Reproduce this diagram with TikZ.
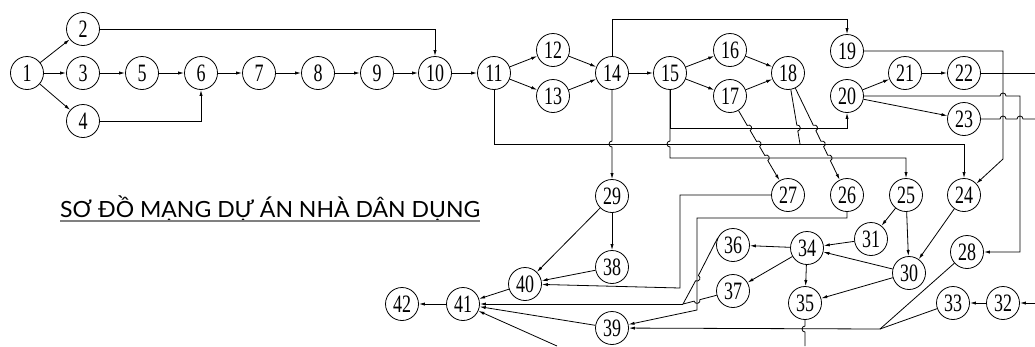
\documentclass[tikz,border=0pt]{standalone}
\usepackage{fontspec}
\newfontfamily\numfont[FakeStretch=0.72]{Liberation Serif}
\newfontfamily\titlefont{Lato}
\usetikzlibrary{arrows.meta}
\begin{document}
\begin{tikzpicture}[x=1pt,y=1pt,
  ev/.style={circle,draw,line width=0.8pt,minimum size=33pt,inner sep=0pt,font=\numfont\fontsize{25}{25}\selectfont},
  ln/.style={line width=0.8pt},
  ar/.style={line width=0.8pt,-{Latex[length=6pt,width=3.2pt]}},
  hp/.style={radius=3pt}]
\useasboundingbox (0,0) rectangle (1035,-346);
% nodes
\node[ev] (n1) at (27,-73) {1};
\node[ev] (n2) at (83,-29) {2};
\node[ev] (n3) at (83,-73) {3};
\node[ev] (n4) at (83,-121) {4};
\node[ev] (n5) at (142,-73) {5};
\node[ev] (n6) at (201,-73) {6};
\node[ev] (n7) at (259,-73) {7};
\node[ev] (n8) at (318,-73) {8};
\node[ev] (n9) at (377,-73) {9};
\node[ev] (n10) at (435,-73) {10};
\node[ev] (n11) at (494,-73) {11};
\node[ev] (n12) at (553,-50) {12};
\node[ev] (n13) at (553,-96) {13};
\node[ev] (n14) at (612,-73) {14};
\node[ev] (n15) at (670,-73) {15};
\node[ev] (n16) at (730,-50) {16};
\node[ev] (n17) at (730,-96) {17};
\node[ev] (n18) at (788,-73) {18};
\node[ev] (n19) at (847,-51) {19};
\node[ev] (n20) at (847,-96) {20};
\node[ev] (n21) at (905,-73) {21};
\node[ev] (n22) at (964,-73) {22};
\node[ev] (n23) at (964,-119) {23};
\node[ev] (n24) at (964,-195) {24};
\node[ev] (n25) at (906,-195) {25};
\node[ev] (n26) at (847,-195) {26};
\node[ev] (n27) at (788,-195) {27};
\node[ev] (n28) at (967,-252) {28};
\node[ev] (n29) at (612,-196) {29};
\node[ev] (n30) at (909,-273) {30};
\node[ev] (n31) at (871,-239) {31};
\node[ev] (n32) at (1003,-303) {32};
\node[ev] (n33) at (953,-303) {33};
\node[ev] (n34) at (807,-248) {34};
\node[ev] (n35) at (805,-303) {35};
\node[ev] (n36) at (733,-245) {36};
\node[ev] (n37) at (733,-291) {37};
\node[ev] (n38) at (612,-267) {38};
\node[ev] (n39) at (612,-328) {39};
\node[ev] (n40) at (525,-284) {40};
\node[ev] (n41) at (463,-304) {41};
\node[ev] (n42) at (402,-304) {42};
\coordinate (j1) at (683,-304);
\coordinate (j2) at (880,-329);
\coordinate (jb) at (557,-346);
\coordinate (e22) at (1035,-73);
\coordinate (e23) at (1035,-119);
\coordinate (e32) at (1035,-303);
\coordinate (e35) at (805,-346);
% title
\node[anchor=base west,inner sep=0pt,font=\titlefont\fontsize{22.3}{24}\selectfont] (title) at (60,-217)
  {\resizebox{420pt}{\height}{SƠ ĐỒ MẠNG DỰ ÁN NHÀ DÂN DỤNG}};
\draw[gray,line width=1.1pt] (60,-221) -- (480,-221);
% top part
\draw[ar] (n1) -- (n2);
\draw[ar] (n1) -- (n3);
\draw[ar] (n1) -- (n4);
\draw[ar] (n3) -- (n5);
\draw[ar] (n5) -- (n6);
\draw[ar] (n6) -- (n7);
\draw[ar] (n7) -- (n8);
\draw[ar] (n8) -- (n9);
\draw[ar] (n9) -- (n10);
\draw[ar] (n10) -- (n11);
\draw[ar] (n4) -| (n6);
\draw[ar] (n2) -| (n10);
\draw[ar] (n11) -- (n12);
\draw[ar] (n11) -- (n13);
\draw[ar] (n12) -- (n14);
\draw[ar] (n13) -- (n14);
\draw[ar] (n14) -- (n15);
\draw[ar] (n15) -- (n16);
\draw[ar] (n15) -- (n17);
\draw[ar] (n16) -- (n18);
\draw[ar] (n17) -- (n18);
\draw[ar] (n14) -- (612,-19) -| (n19);
\draw[ar] (n15) -- (670,-128) -| (n20);
\draw[ar] (n15) -- (670,-141) arc[start angle=90,end angle=270,hp] -- (670,-158) -| (n25);
\draw[ar] (n11) -- (494,-144) -| (n24);
\draw[ar] (n14) -- (612,-141) arc[start angle=90,end angle=270,hp] -- (n29);
\draw[ln] (n18) -- ([shift={(99.6:3pt)}]797.3,-128) arc[start angle=99.6,end angle=-80.4,hp] -- (800,-144);
\draw[ar] (n17) -- ([shift={(120.4:3pt)}]748.7,-128) arc[start angle=120.4,end angle=-59.6,hp]
  -- ([shift={(120.4:3pt)}]758.1,-144) arc[start angle=120.4,end angle=-59.6,hp]
  -- ([shift={(120.4:3pt)}]766.3,-158) arc[start angle=120.4,end angle=-59.6,hp] -- (n27);
\draw[ar] (n18) -- ([shift={(115.8:3pt)}]814.6,-128) arc[start angle=115.8,end angle=-64.2,hp]
  -- ([shift={(115.8:3pt)}]822.3,-144) arc[start angle=115.8,end angle=-64.2,hp]
  -- ([shift={(115.8:3pt)}]829.1,-158) arc[start angle=115.8,end angle=-64.2,hp] -- (n26);
\draw[ar] (n19) -- (1003,-51) -- (1003,-159) -- (n24);
\draw[ar] (n20) -- (n21);
\draw[ar] (n21) -- (n22);
\draw[ar] (n20) -- (n23);
\draw[ar] (n20) -- (1000,-96) arc[start angle=180,end angle=0,hp] -- (1020,-96) |- (n28);
\draw[ln] (n22) -- (e22);
\draw[ln] (n23) -- (1000,-119) arc[start angle=180,end angle=0,hp] -- (1017,-119) arc[start angle=180,end angle=0,hp] -- (e23);
% bottom part
\draw[ar] (e32) -- (n32);
\draw[ar] (n32) -- (n33);
\draw[ar] (n25) -- (n31);
\draw[ar] (n25) -- (n30);
\draw[ar] (n24) -- (n30);
\draw[ar] (n31) -- (n34);
\draw[ar] (n30) -- (n34);
\draw[ar] (n30) -- (n35);
\draw[ar] (n34) -- (n36);
\draw[ar] (n34) -- (n37);
\draw[ar] (n34) -- (n35);
\draw[ar] (n29) -- (n38);
\draw[ar] (n29) -- (n40);
\draw[ar] (n38) -- (n40);
\draw[ar] (n27) -- (680,-195) -- (680,-288) -- (n40);
\draw[ar] (n26) -- (847,-218) -- (697,-218) -- (697,-310) -- (n39);
\draw[ln] (n36.155) -- ([shift={(61.7:3pt)}]697,-278.1) arc[start angle=61.7,end angle=-118.3,hp] -- (j1);
\draw[ln] (n37) -- ([shift={(14.6:3pt)}]697,-300.4) arc[start angle=14.6,end angle=-165.4,hp] -- (j1);
\draw[ar] (j1) -- (n41);
\draw[ar] (n39) -- (n41);
\draw[ar] (n40) -- (n41);
\draw[ar] (jb) -- (n41);
\draw[ar] (n41) -- (n42);
\draw[ln] (n28) -- (j2);
\draw[ln] (n33) -- (j2);
\draw[ar] (j2) -- (n39);
\draw[ln] (n35) -- (805,-326) arc[start angle=90,end angle=270,hp] -- (e35);
\end{tikzpicture}
\end{document}
